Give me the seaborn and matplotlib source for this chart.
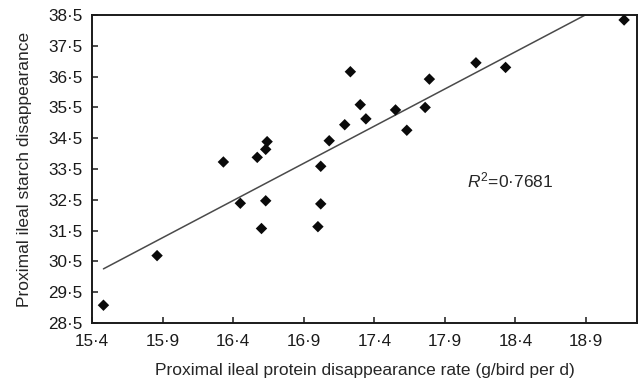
import numpy as np
import pandas as pd
import matplotlib.pyplot as plt
import seaborn as sns

# data
protein_rate = [15.48, 15.86, 16.33, 16.45, 16.57, 16.60, 16.63, 16.63, 16.64,
                17.00, 17.02, 17.02, 17.08, 17.19, 17.23, 17.30, 17.34, 17.55,
                17.63, 17.76, 17.79, 18.12, 18.33, 19.17]
starch = [29.08, 30.69, 33.73, 32.39, 33.88, 31.57, 32.47, 34.14, 34.39,
          31.63, 32.37, 33.59, 34.42, 34.94, 36.66, 35.59, 35.13, 35.42,
          34.76, 35.50, 36.42, 36.95, 36.80, 38.34]
x_ticks = [15.4, 15.9, 16.4, 16.9, 17.4, 17.9, 18.4, 18.9]
y_ticks = [28.5, 29.5, 30.5, 31.5, 32.5, 33.5, 34.5, 35.5, 36.5, 37.5, 38.5]
r2_label = '0·7681'

df = pd.DataFrame({'protein': protein_rate, 'starch': starch})

sns.set_style('ticks')
plt.rcParams['font.family'] = ['Liberation Sans', 'DejaVu Sans']
plt.rcParams['mathtext.fontset'] = 'custom'
plt.rcParams['mathtext.rm'] = 'Liberation Sans'
plt.rcParams['mathtext.it'] = 'Liberation Sans:italic'

fig = plt.figure(figsize=(6.4, 3.86), dpi=100)
ax = fig.add_axes([0.144, 0.163, 0.851, 0.798])

sns.regplot(data=df, x='protein', y='starch', ci=None, ax=ax, truncate=True,
            marker='D',
            scatter_kws={'s': 34, 'color': '#0a0a0a', 'alpha': 1,
                         'edgecolor': 'none', 'zorder': 3},
            line_kws={'color': '#4a4a4a', 'linewidth': 1.1})

ax.set_xlim(15.4, 19.26)
ax.set_ylim(28.5, 38.5)
ax.set_xticks(x_ticks)
ax.set_yticks(y_ticks)
ax.set_xticklabels([f'{t:.1f}'.replace('.', '·') for t in x_ticks])
ax.set_yticklabels([f'{t:.1f}'.replace('.', '·') for t in y_ticks])
ax.tick_params(direction='in', length=4, width=1.1, labelsize=12.3,
               colors='#1a1a1a')
ax.tick_params(axis='x', pad=8)
ax.tick_params(axis='y', pad=7)

for sp in ax.spines.values():
    sp.set_linewidth(1.4)
    sp.set_color('#1a1a1a')

ax.set_xlabel('Proximal ileal protein disappearance rate (g/bird per d)',
              fontsize=12.5, labelpad=10)
ax.set_ylabel('Proximal ileal starch disappearance', fontsize=12.5, labelpad=12)

ax.text(18.06, 33.14, r'$\mathit{R}^{2}$=' + r2_label, fontsize=12.5,
        va='center', ha='left')

fig.savefig('out.png', dpi=100)
